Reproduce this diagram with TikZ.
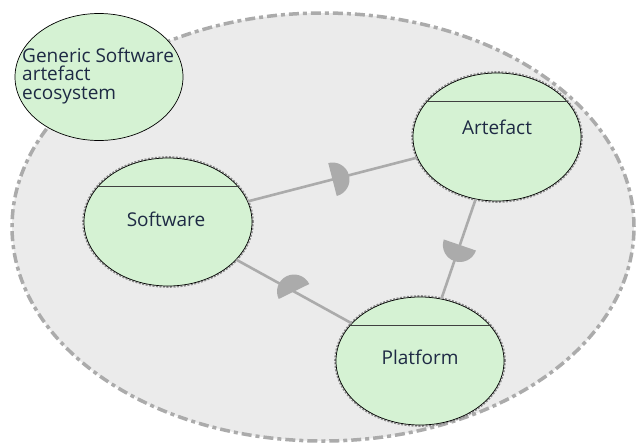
\documentclass[tikz,border=0pt]{standalone}
\usepackage{fontspec}
\setmainfont{Open Sans}
\usetikzlibrary{shapes.geometric,decorations.markings}
\definecolor{bgfill}{HTML}{EBEBEB}
\definecolor{bgline}{HTML}{ABABAB}
\definecolor{nodefill}{HTML}{D5F2D3}
\definecolor{conn}{HTML}{ABABAB}
\definecolor{txt}{HTML}{1E2A44}
\definecolor{halocol}{HTML}{8C8C8C}
\begin{document}
\begin{tikzpicture}[x=1pt,y=-1pt,
  eco/.style={ellipse, fill=bgfill, draw=bgline, line width=3.5pt,
    dash pattern=on 10pt off 4pt on 4pt off 4pt, minimum width=622pt, minimum height=428pt, inner sep=0pt},
  elem/.style={ellipse, fill=nodefill, draw=black, line width=0.7pt,
    minimum width=168pt, minimum height=128pt, inner sep=0pt},
  halo/.style={ellipse, draw=halocol, line width=1.6pt, dash pattern=on 2pt off 1.5pt,
    minimum width=170pt, minimum height=130pt, inner sep=0pt},
  divider/.style={draw=black!75, line width=0.8pt},
  lbl/.style={font=\fontsize{19}{18.5}\selectfont, text=txt, inner sep=0pt},
  link/.style n args={2}{draw=conn, line width=2.6pt,
    decoration={markings, mark=at position #1 with {\fill[conn, rotate=#2] (0,-17pt) arc[start angle=-90,end angle=90,radius=17pt] -- cycle;}},
    postaction={decorate}}
]
\useasboundingbox (0,0) rectangle (636,444);
% background ecosystem
\node[eco] (ecosys) at (323,227) {};
% generic element
\node[elem, minimum height=127pt] (gen) at (99,77) {};
\node[lbl, anchor=north west, align=left] (gentext) at (22,47.5) {Generic Software\\artefact\\ecosystem};
% halos
\node[halo] (swhalo) at (168,222) {};
\node[halo] (arhalo) at (497,137) {};
\node[halo] (plhalo) at (420,361) {};
% elements
\node[elem] (sw) at (168,222) {};
\node[elem] (ar) at (497,137) {};
\node[elem] (pl) at (420,361) {};
% dividers
\draw[divider] ([shift={(-69,-36)}]sw.center) -- ([shift={(69,-36)}]sw.center);
\draw[divider] ([shift={(-69,-36)}]ar.center) -- ([shift={(69,-36)}]ar.center);
\draw[divider] ([shift={(-69,-36)}]pl.center) -- ([shift={(69,-36)}]pl.center);
% labels
\node[lbl] (swl) at (166,219) {Software};
\node[lbl] (arl) at (497,127) {Artefact};
\node[lbl] (pll) at (420,357) {Platform};
% connectors
\draw[link={0.5}{0}] (sw) -- (ar);
\draw[link={0.46}{0}] (ar) -- (pl);
\draw[link={0.5}{-35}] (pl) -- (sw);
\end{tikzpicture}
\end{document}
